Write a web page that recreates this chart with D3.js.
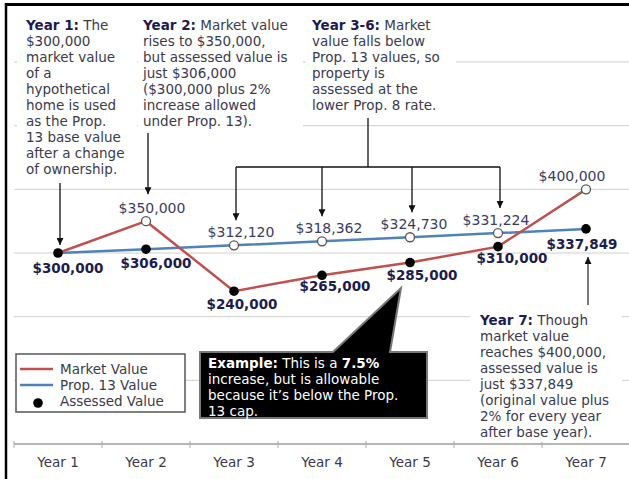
<!DOCTYPE html>
<html>
<head>
<meta charset="utf-8">
<script src="https://cdn.jsdelivr.net/npm/d3@7"></script>
<style>
  body { margin: 0; background: #fff; }
  svg { display: block; font-family: 'DejaVu Sans', Verdana, sans-serif; }
</style>
</head>
<body>
<svg id="chart" width="629" height="479"></svg>
<script>
// Chart data
var years = ['Year 1', 'Year 2', 'Year 3', 'Year 4', 'Year 5', 'Year 6', 'Year 7'];
var marketValue = [300000, 350000, 240000, 265000, 285000, 310000, 400000];
var prop13Value = [300000, 306000, 312120, 318362, 324730, 331224, 337849];
var assessedValue = [300000, 306000, 240000, 265000, 285000, 310000, 337849];
var yTicks = [0, 100000, 200000, 300000, 400000, 500000, 600000];

var RED = '#c0504d', BLUE = '#4f81bd', NAVY = '#1c1c4e', TEXT = '#3a3a4c';

var svg = d3.select('#chart');

// Scales: one band per year, values from 0 to 600k.
var x = d3.scaleBand().domain(years).range([14, 630]);
var y = d3.scaleLinear().domain([0, 600000]).range([444, 62]);
var cx = function(i) { return x(years[i]) + x.bandwidth() / 2; };

// Horizontal gridlines
svg.append('g').selectAll('line').data(yTicks.slice(1)).enter().append('line')
    .attr('x1', 14).attr('x2', 629)
    .attr('y1', function(d) { return y(d); }).attr('y2', function(d) { return y(d); })
    .attr('stroke', '#cfcfcf').attr('stroke-width', 1);

// X axis
var xAxis = svg.append('g').attr('transform', 'translate(0,' + y(0) + ')');
xAxis.append('line').attr('x1', 14).attr('x2', 629)
    .attr('stroke', '#b5b5b5').attr('stroke-width', 2);
xAxis.selectAll('.tick').data(years.concat(['end'])).enter().append('line')
    .attr('x1', function(d, i) { return 14 + i * x.bandwidth(); })
    .attr('x2', function(d, i) { return 14 + i * x.bandwidth(); })
    .attr('y1', -3).attr('y2', 4)
    .attr('stroke', '#aaa').attr('stroke-width', 1);
xAxis.selectAll('text').data(years).enter().append('text')
    .attr('x', function(d, i) { return cx(i); }).attr('y', 23)
    .attr('text-anchor', 'middle').style('font-size', '13.5px').style('fill', TEXT)
    .text(function(d) { return d; });

// Helper for multi-line annotations with bold runs.
function annotate(x0, y0, lines, color, boldColor) {
    var t = svg.append('text').attr('x', x0).attr('y', y0)
        .style('font-size', '13.5px').style('fill', color);
    lines.forEach(function(line, li) {
        line.forEach(function(seg, si) {
            var ts = t.append('tspan').text(seg[0]);
            if (si === 0) ts.attr('x', x0).attr('dy', li === 0 ? 0 : 16);
            if (seg[1]) ts.style('font-weight', 'bold').style('fill', boldColor);
        });
    });
    return t;
}

function whiteBox(x0, y0, w, h) {
    svg.append('rect').attr('x', x0).attr('y', y0).attr('width', w).attr('height', h).attr('fill', '#fff');
}

// White boxes behind the annotation texts hide the gridlines.
whiteBox(17, 8, 120, 170);
whiteBox(138, 8, 165, 122);
whiteBox(306, 8, 150, 110);
whiteBox(470, 308, 152, 134);

annotate(26, 30, [
    [['Year 1:', true], [' The']], [['$300,000']], [['market value']], [['of a']],
    [['hypothetical']], [['home is used']], [['as the Prop.']], [['13 base value']],
    [['after a change']], [['of ownership.']]
], TEXT, NAVY);
annotate(143, 30, [
    [['Year 2:', true], [' Market value']], [['rises to $350,000,']], [['but assessed value is']],
    [['just $306,000']], [['($300,000  plus 2%']], [['increase allowed']], [['under Prop. 13).']]
], TEXT, NAVY);
annotate(312, 30, [
    [['Year 3-6:', true], [' Market']], [['value falls below']], [['Prop. 13 values, so']],
    [['property is']], [['assessed at the']], [['lower Prop. 8 rate.']]
], TEXT, NAVY);
annotate(480, 325, [
    [['Year 7:', true], [' Though']], [['market value']], [['reaches $400,000,']],
    [['assessed value is']], [['just $337,849']], [['(original value plus']],
    [['2% for every year']], [['after base year).']]
], TEXT, NAVY);

// Arrows
svg.append('defs').append('marker')
    .attr('id', 'arrow').attr('viewBox', '0 0 10 10').attr('refX', 10).attr('refY', 5)
    .attr('markerWidth', 7).attr('markerHeight', 7).attr('markerUnits', 'userSpaceOnUse')
    .attr('orient', 'auto')
    .append('path').attr('d', 'M0,0L10,5L0,10Z').attr('fill', '#111');

function arrow(x1, y1, x2, y2, col) {
    svg.append('line').attr('x1', x1).attr('y1', y1).attr('x2', x2).attr('y2', y2)
        .attr('stroke', col || '#111').attr('stroke-width', 1.3).attr('marker-end', 'url(#arrow)');
}
arrow(cx(0) + 2, 183, cx(0) + 2, y(assessedValue[0]) - 8);
arrow(cx(1) + 2, 133, cx(1) + 2, y(marketValue[1]) - 27);
// Year 3-6 bracket
var bx = [2, 3, 4, 5].map(function(i) { return cx(i) + [2, 0, 2, 2][i - 2]; });
svg.append('line').attr('x1', 368).attr('x2', 368).attr('y1', 118).attr('y2', 167)
    .attr('stroke', '#111').attr('stroke-width', 1.3);
svg.append('line').attr('x1', bx[0]).attr('x2', bx[3]).attr('y1', 167).attr('y2', 167)
    .attr('stroke', '#111').attr('stroke-width', 1.3);
[2, 3, 4, 5].forEach(function(i, k) {
    arrow(bx[k], 167, bx[k], y(prop13Value[i]) - 25);
});
arrow(cx(6) + 2, 305, cx(6) + 2, y(assessedValue[6]) + 28, '#333');

// Lines
var line = d3.line().x(function(d, i) { return cx(i); }).y(function(d) { return y(d); });
svg.append('path').datum(prop13Value).attr('d', line)
    .attr('fill', 'none').attr('stroke', BLUE).attr('stroke-width', 2.5);
svg.append('path').datum(marketValue).attr('d', line)
    .attr('fill', 'none').attr('stroke', RED).attr('stroke-width', 2.5);

// Hollow markers for the value that is not assessed
var hollow = [];
years.forEach(function(d, i) {
    if (marketValue[i] !== assessedValue[i]) hollow.push({ i: i, v: marketValue[i] });
    if (prop13Value[i] !== assessedValue[i]) hollow.push({ i: i, v: prop13Value[i] });
});
svg.selectAll('.hollow').data(hollow).enter().append('circle')
    .attr('cx', function(d) { return cx(d.i); }).attr('cy', function(d) { return y(d.v); })
    .attr('r', 4.5).attr('fill', '#fff').attr('stroke', '#555').attr('stroke-width', 1.3);
svg.selectAll('.assessed').data(assessedValue).enter().append('circle')
    .attr('cx', function(d, i) { return cx(i); }).attr('cy', function(d) { return y(d); })
    .attr('r', 4.8).attr('fill', '#000');

// Value labels
var fmt = d3.format('$,');
var hollowDx = [6, 7, 7, 4, -2, -14];
svg.selectAll('.hlabel').data(hollow).enter().append('text')
    .attr('x', function(d, k) { return cx(d.i) + hollowDx[k]; })
    .attr('y', function(d) { return y(d.v) - 13; })
    .attr('dy', '0.35em').attr('text-anchor', 'middle')
    .style('font-size', '14px').style('fill', '#3b3b5e')
    .text(function(d) { return fmt(d.v); });
var boldDx = [10, 10, 8, 13, 12, 14, -4];
var boldDy = [15, 14, 13, 11, 12.5, 12, 15];
svg.selectAll('.alabel').data(assessedValue).enter().append('text')
    .attr('x', function(d, i) { return cx(i) + boldDx[i]; })
    .attr('y', function(d, i) { return y(d) + boldDy[i]; })
    .attr('dy', '0.35em').attr('text-anchor', 'middle')
    .style('font-size', '13.5px').style('font-weight', 'bold').style('fill', NAVY)
    .text(function(d) { return fmt(d); });

// Legend
var lg = svg.append('g').attr('transform', 'translate(16,354)');
lg.append('rect').attr('width', 169).attr('height', 58)
    .attr('fill', '#fff').attr('stroke', '#555').attr('stroke-width', 1.5);
var legendItems = [['Market Value', RED], ['Prop. 13 Value', BLUE], ['Assessed Value', null]];
legendItems.forEach(function(item, i) {
    var ly = 15 + i * 16;
    if (item[1]) {
        lg.append('line').attr('x1', 4).attr('x2', 37).attr('y1', ly).attr('y2', ly)
            .attr('stroke', item[1]).attr('stroke-width', 2.5);
    } else {
        lg.append('circle').attr('cx', 22).attr('cy', ly + 2).attr('r', 4.8).attr('fill', '#000');
    }
    lg.append('text').attr('x', 44).attr('y', ly).attr('dy', '0.35em')
        .style('font-size', '13.5px').style('fill', TEXT).text(item[0]);
});

// Callout box pointing at the Year 5 market value
var callout = svg.append('g');
callout.append('path')
    .attr('d', 'M200,352L333,352L401,288L390,352L427,352L427,418L200,418Z')
    .attr('fill', '#000').attr('stroke', '#777').attr('stroke-width', 2);
annotate(208, 368, [
    [['Example:', true], [' This is a '], ['7.5%', true]],
    [['increase, but is allowable']], [['because it\u2019s below the Prop.']], [['13 cap.']]
], '#fff', '#fff');

// Frame: top and left borders
svg.append('line').attr('x1', 5).attr('x2', 629).attr('y1', 4.5).attr('y2', 4.5)
    .attr('stroke', '#000').attr('stroke-width', 3);
svg.append('line').attr('x1', 6).attr('x2', 6).attr('y1', 3).attr('y2', 479)
    .attr('stroke', '#000').attr('stroke-width', 2.5);
</script>
</body>
</html>
